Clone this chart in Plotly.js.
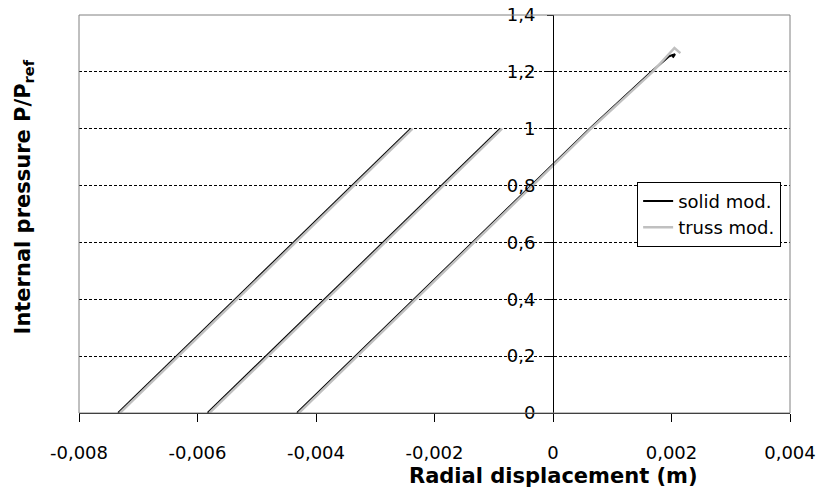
<!DOCTYPE html>
<html>
<head>
<meta charset="utf-8">
<script src="https://cdn.plot.ly/plotly-3.0.1.min.js"></script>
<style>
  html, body { margin: 0; padding: 0; background: #fff; }
  #chart { width: 820px; height: 497px; }
</style>
</head>
<body>
<div id="chart"></div>
<script>
// Internal pressure vs. radial displacement for three load cases,
// solid model compared with truss model.
const solidX1 = [-0.00734, -0.00240];
const solidY1 = [0, 1];
const solidX2 = [-0.00583, -0.00089];
const solidY2 = [0, 1];
const solidX3 = [-0.00432, 0.00062, 0.00166, 0.00196, 0.00206, 0.00202];
const solidY3 = [0, 1, 1.2, 1.255, 1.262, 1.250];

const trussX1 = [-0.00731, -0.00237];
const trussY1 = [0, 1];
const trussX2 = [-0.00580, -0.00086];
const trussY2 = [0, 1];
const trussX3 = [-0.00429, 0.00064, 0.00168, 0.00205, 0.00215];
const trussY3 = [0, 1, 1.2, 1.284, 1.266];

const xTickVals = [-0.008, -0.006, -0.004, -0.002, 0, 0.002, 0.004];
const xTickText = ['-0,008', '-0,006', '-0,004', '-0,002', '0', '0,002', '0,004'];
const yTickVals = [0, 0.2, 0.4, 0.6, 0.8, 1, 1.2, 1.4];
const yTickText = ['0', '0,2', '0,4', '0,6', '0,8', '1', '1,2', '1,4'];

// join the separate curves of one model into a single trace, broken by gaps
function joinCurves(parts) {
  const out = [];
  parts.forEach((p, i) => { if (i > 0) out.push(null); out.push(...p); });
  return out;
}

const traces = [
  {
    name: 'solid mod.',
    x: joinCurves([solidX1, solidX2, solidX3]),
    y: joinCurves([solidY1, solidY2, solidY3]),
    mode: 'lines',
    line: { color: '#000000', width: 2 }
  },
  {
    name: 'truss mod.',
    x: joinCurves([trussX1, trussX2, trussX3]),
    y: joinCurves([trussY1, trussY2, trussY3]),
    mode: 'lines',
    line: { color: '#c0c0c0', width: 2.5 }
  }
];

const tickFont = { family: 'DejaVu Sans, Arial, sans-serif', size: 18, color: '#000' };
const titleFont = { family: 'DejaVu Sans, Arial, sans-serif', size: 21, color: '#000', weight: 'bold' };

const layout = {
  width: 820,
  height: 497,
  margin: { l: 79, r: 30, t: 15, b: 84 },
  paper_bgcolor: '#fff',
  plot_bgcolor: '#fff',
  showlegend: true,
  legend: {
    x: 0.785, y: 0.581, xanchor: 'left', yanchor: 'top',
    bgcolor: '#fff', bordercolor: '#000', borderwidth: 1,
    font: { family: 'DejaVu Sans, Arial, sans-serif', size: 18, color: '#000' },
    tracegroupgap: 0
  },
  xaxis: {
    range: [-0.008, 0.004],
    tickvals: xTickVals,
    ticktext: xTickText,
    ticks: 'outside', ticklen: 8, tickcolor: '#000', tickwidth: 1,
    ticklabelstandoff: 15,
    showline: true, linecolor: '#000', linewidth: 1,
    showgrid: false, zeroline: false,
    tickfont: tickFont
  },
  yaxis: {
    range: [0, 1.4],
    anchor: 'free', position: 2 / 3,
    tickvals: yTickVals,
    ticktext: yTickText,
    ticks: 'outside', ticklen: 6, tickcolor: '#000', tickwidth: 1,
    ticklabelstandoff: 8,
    showline: true, linecolor: '#000', linewidth: 1,
    showgrid: true, gridcolor: '#000', gridwidth: 1, griddash: '3px,2px',
    zeroline: false,
    tickfont: tickFont
  },
  shapes: [
    {
      type: 'rect', xref: 'paper', yref: 'paper',
      x0: 0, x1: 1, y0: 0, y1: 1,
      line: { color: '#808080', width: 1 },
      layer: 'above'
    }
  ],
  annotations: [
    {
      text: 'Radial displacement (m)',
      xref: 'x', x: 0, yref: 'paper', y: -0.158,
      xanchor: 'center', yanchor: 'middle',
      showarrow: false, font: titleFont
    },
    {
      text: 'Internal pressure P/P<sub>ref</sub>',
      xref: 'paper', x: -0.078, yref: 'paper', y: 0.543,
      xanchor: 'center', yanchor: 'middle', textangle: -90,
      showarrow: false, font: titleFont
    }
  ]
};

Plotly.newPlot('chart', traces, layout, { displayModeBar: false, staticPlot: true });
</script>
</body>
</html>
